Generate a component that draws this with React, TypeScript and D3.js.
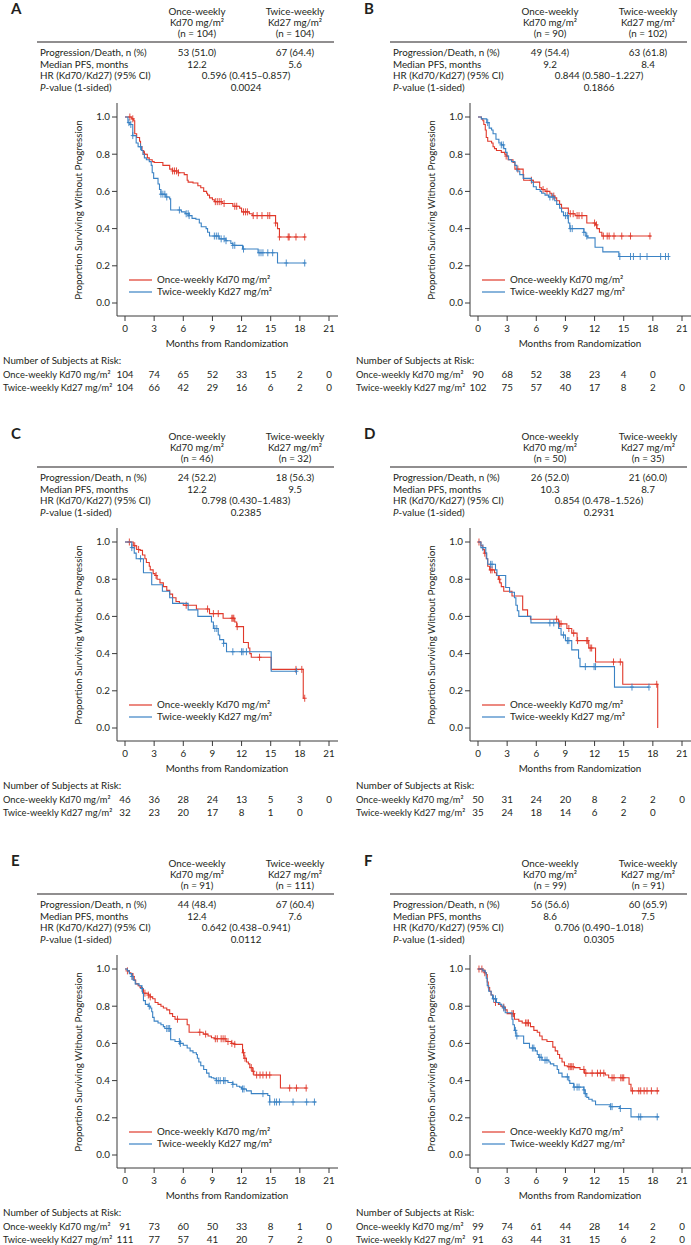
import React from 'react';
import * as d3 from 'd3';

type Pt = [number, number];

// ---- header table values (panels A–F) ----
const letters = ['A', 'B', 'C', 'D', 'E', 'F'];
const nOnce = [104, 90, 46, 50, 91, 99];
const nTwice = [104, 102, 32, 35, 111, 91];
const eventsOnce = ['53 (51.0)', '49 (54.4)', '24 (52.2)', '26 (52.0)', '44 (48.4)', '56 (56.6)'];
const eventsTwice = ['67 (64.4)', '63 (61.8)', '18 (56.3)', '21 (60.0)', '67 (60.4)', '60 (65.9)'];
const medianOnce = ['12.2', '9.2', '12.2', '10.3', '12.4', '8.6'];
const medianTwice = ['5.6', '8.4', '9.5', '8.7', '7.6', '7.5'];
const hrText = [
  '0.596 (0.415–0.857)', '0.844 (0.580–1.227)', '0.798 (0.430–1.483)',
  '0.854 (0.478–1.526)', '0.642 (0.438–0.941)', '0.706 (0.490–1.018)',
];
const pText = ['0.0024', '0.1866', '0.2385', '0.2931', '0.0112', '0.0305'];

// ---- number at risk at months 0,3,...,21 ----
const riskOnce = [
  [104, 74, 65, 52, 33, 15, 2, 0],
  [90, 68, 52, 38, 23, 4, 0],
  [46, 36, 28, 24, 13, 5, 3, 0],
  [50, 31, 24, 20, 8, 2, 2, 0],
  [91, 73, 60, 50, 33, 8, 1, 0],
  [99, 74, 61, 44, 28, 14, 2, 0],
];
const riskTwice = [
  [104, 66, 42, 29, 16, 6, 2, 0],
  [102, 75, 57, 40, 17, 8, 2, 0],
  [32, 23, 20, 17, 8, 1, 0],
  [35, 24, 18, 14, 6, 2, 0],
  [111, 77, 57, 41, 20, 7, 2, 0],
  [91, 63, 44, 31, 15, 6, 2, 0],
];

// ---- KM steps [month, survival after step], last follow-up, censor times ----
const onceSteps: Pt[][] = [
  [[0,1],[0.7,0.99],[0.9,0.98],[1.0,0.91],[1.2,0.89],[1.5,0.87],[1.6,0.84],[1.75,0.82],[1.9,0.81],[2.0,0.80],[2.3,0.78],[2.5,0.77],[2.8,0.76],[3.0,0.755],[3.9,0.74],[4.6,0.72],[4.9,0.71],[5.5,0.70],[6.1,0.69],[6.4,0.66],[6.5,0.65],[7.0,0.645],[7.5,0.63],[7.8,0.62],[8.1,0.60],[8.4,0.59],[8.5,0.58],[8.7,0.565],[9.0,0.555],[9.2,0.545],[10.0,0.535],[11.1,0.52],[11.8,0.51],[12.0,0.49],[12.8,0.48],[13.1,0.47],[15.5,0.43],[15.7,0.40],[15.9,0.355]],
  [[0,1],[0.35,0.99],[0.5,0.98],[0.6,0.96],[0.75,0.93],[0.85,0.89],[1.0,0.87],[1.4,0.86],[1.55,0.84],[1.7,0.83],[1.9,0.82],[2.4,0.81],[2.75,0.80],[2.9,0.79],[3.1,0.77],[3.6,0.755],[3.8,0.72],[4.65,0.69],[4.7,0.66],[5.7,0.65],[6.35,0.62],[6.55,0.61],[6.9,0.60],[7.4,0.59],[7.6,0.575],[7.9,0.565],[8.1,0.55],[8.4,0.53],[8.6,0.51],[9.3,0.48],[10.0,0.47],[11.2,0.43],[12.1,0.42],[12.25,0.40],[12.5,0.38],[12.75,0.36]],
  [[0,1],[0.85,0.98],[1.2,0.96],[1.55,0.955],[1.8,0.93],[2.05,0.91],[2.2,0.89],[2.5,0.87],[2.6,0.85],[2.9,0.83],[3.1,0.82],[3.3,0.80],[3.6,0.78],[3.95,0.76],[4.3,0.74],[4.6,0.72],[4.9,0.70],[5.25,0.68],[5.6,0.67],[6.0,0.66],[7.35,0.64],[8.7,0.615],[10.1,0.59],[11.3,0.57],[11.5,0.545],[12.2,0.46],[12.7,0.43],[12.85,0.40],[13.0,0.38],[15.05,0.315],[18.35,0.16]],
  [[0,1],[0.3,0.98],[0.5,0.96],[0.65,0.94],[0.85,0.91],[1.0,0.87],[1.2,0.85],[1.7,0.835],[1.9,0.82],[2.1,0.80],[2.25,0.78],[2.4,0.76],[2.65,0.735],[3.5,0.71],[4.6,0.635],[5.1,0.60],[5.4,0.585],[8.3,0.56],[9.15,0.535],[9.65,0.51],[10.2,0.47],[11.4,0.43],[12.1,0.355],[14.9,0.235],[18.5,0.0]],
  [[0,1],[0.25,0.99],[0.45,0.98],[0.6,0.975],[0.8,0.96],[0.95,0.94],[1.1,0.92],[1.35,0.91],[1.55,0.90],[1.8,0.89],[1.9,0.87],[2.4,0.86],[2.6,0.85],[2.85,0.84],[3.1,0.82],[3.4,0.81],[3.7,0.80],[3.95,0.79],[4.3,0.78],[4.6,0.76],[4.9,0.745],[5.15,0.73],[6.4,0.70],[6.6,0.66],[8.05,0.65],[8.55,0.64],[8.9,0.63],[9.2,0.625],[10.4,0.61],[10.95,0.60],[11.3,0.595],[12.1,0.55],[12.25,0.52],[12.5,0.50],[12.7,0.49],[12.85,0.47],[13.1,0.45],[13.25,0.43],[16.0,0.36]],
  [[0,1],[0.5,0.99],[0.7,0.98],[0.85,0.97],[0.95,0.93],[1.05,0.90],[1.2,0.88],[1.35,0.86],[1.55,0.84],[1.8,0.82],[2.1,0.81],[2.35,0.80],[2.55,0.795],[2.8,0.78],[3.0,0.76],[3.75,0.73],[4.2,0.72],[4.55,0.71],[5.4,0.69],[5.75,0.67],[6.1,0.66],[6.35,0.64],[6.6,0.62],[7.1,0.61],[7.7,0.58],[7.95,0.56],[8.2,0.54],[8.4,0.52],[8.65,0.50],[8.9,0.48],[9.2,0.475],[9.9,0.47],[10.5,0.46],[10.95,0.44],[13.1,0.43],[13.45,0.415],[15.55,0.38],[15.75,0.345]],
];
const onceEnd = [18.6, 17.8, 18.5, 18.5, 18.7, 18.65];
const onceCens = [
  [0.5, 0.8, 2.0, 4.9, 5.1, 5.3, 5.5, 9.3, 9.5, 9.7, 9.9, 10.2, 11.3, 11.5, 12.2, 12.4, 12.6, 13.2, 13.6, 14.1, 14.7, 14.9, 15.5, 15.9, 16.8, 16.9, 17.6, 18.5],
  [2.9, 4.1, 5.5, 6.7, 7.1, 7.8, 9.5, 9.8, 10.2, 10.4, 10.7, 12.0, 12.2, 12.9, 13.3, 13.5, 14.0, 14.8, 15.7, 17.7],
  [0.45, 1.0, 1.4, 3.2, 6.3, 8.5, 9.1, 9.6, 11.0, 11.1, 11.2, 11.55, 13.85, 17.6, 18.2, 18.5],
  [0.1, 0.7, 1.3, 1.45, 2.2, 8.1, 8.4, 8.55, 9.35, 9.85, 10.25, 11.2, 11.3, 11.55, 11.7, 13.95, 14.65, 18.4],
  [0.25, 0.8, 2.05, 2.4, 2.6, 5.4, 7.7, 8.3, 9.3, 9.5, 9.9, 10.1, 10.3, 10.6, 11.0, 11.3, 12.2, 12.35, 13.0, 13.2, 13.55, 13.9, 14.2, 14.55, 14.9, 16.95, 17.65, 18.65],
  [0.1, 0.4, 0.7, 1.8, 2.65, 3.5, 3.65, 4.9, 5.05, 5.2, 9.35, 9.5, 9.65, 9.8, 10.9, 11.1, 11.75, 12.3, 12.6, 12.95, 13.8, 14.0, 14.7, 14.85, 15.0, 15.9, 16.55, 16.75, 17.1, 17.4, 17.85, 18.45],
];

const twiceSteps: Pt[][] = [
  [[0,1],[0.3,0.97],[0.5,0.96],[0.8,0.90],[1.15,0.86],[1.35,0.84],[1.7,0.82],[1.85,0.80],[2.0,0.78],[2.2,0.77],[2.5,0.76],[2.7,0.74],[2.8,0.70],[2.95,0.67],[3.4,0.64],[3.55,0.61],[3.7,0.585],[4.2,0.57],[4.6,0.56],[4.7,0.50],[5.8,0.49],[6.2,0.48],[6.6,0.47],[6.9,0.455],[7.3,0.45],[7.65,0.43],[7.85,0.41],[8.35,0.40],[8.5,0.38],[8.7,0.36],[9.7,0.345],[10.4,0.335],[10.9,0.32],[11.1,0.31],[12.1,0.29],[13.7,0.27],[15.7,0.215]],
  [[0,1],[0.35,0.99],[0.9,0.97],[1.15,0.94],[1.4,0.93],[1.55,0.91],[1.85,0.88],[2.15,0.86],[2.4,0.85],[2.65,0.83],[2.85,0.81],[3.0,0.79],[3.15,0.77],[3.45,0.76],[3.8,0.74],[4.0,0.71],[4.3,0.69],[4.65,0.67],[5.5,0.65],[5.7,0.625],[6.0,0.61],[6.4,0.60],[6.55,0.59],[6.9,0.58],[7.25,0.57],[7.9,0.55],[8.1,0.53],[8.4,0.51],[8.6,0.49],[8.8,0.47],[9.3,0.43],[9.45,0.40],[10.9,0.38],[11.1,0.36],[11.3,0.35],[12.05,0.30],[12.85,0.275],[14.5,0.25]],
  [[0,1],[0.7,0.97],[0.95,0.94],[1.15,0.91],[1.9,0.835],[2.75,0.77],[3.85,0.735],[4.6,0.70],[4.9,0.67],[6.5,0.635],[7.5,0.60],[8.9,0.57],[9.1,0.535],[9.6,0.50],[9.75,0.475],[10.15,0.455],[10.45,0.41],[15.05,0.305]],
  [[0,1],[0.3,0.97],[0.8,0.94],[0.9,0.91],[1.0,0.88],[1.8,0.85],[1.95,0.82],[2.85,0.755],[3.25,0.73],[3.75,0.70],[3.9,0.66],[4.05,0.63],[4.2,0.60],[5.45,0.565],[8.3,0.535],[8.55,0.50],[9.0,0.47],[9.65,0.42],[10.35,0.375],[10.5,0.33],[14.05,0.22]],
  [[0,1],[0.25,0.99],[0.45,0.975],[0.7,0.96],[0.85,0.94],[1.05,0.92],[1.45,0.91],[1.7,0.895],[1.8,0.87],[1.9,0.83],[2.1,0.81],[2.4,0.80],[2.6,0.79],[2.75,0.77],[2.85,0.74],[3.0,0.72],[3.4,0.71],[3.7,0.70],[3.95,0.69],[4.1,0.68],[4.7,0.62],[5.15,0.61],[5.65,0.60],[6.0,0.59],[6.4,0.575],[6.7,0.56],[7.0,0.55],[7.35,0.54],[7.45,0.52],[7.6,0.50],[7.8,0.48],[8.1,0.46],[8.4,0.44],[8.65,0.42],[8.9,0.415],[9.15,0.41],[9.4,0.40],[10.6,0.39],[11.1,0.38],[11.5,0.37],[11.8,0.365],[12.0,0.355],[12.5,0.345],[13.0,0.33],[14.7,0.32],[14.9,0.285]],
  [[0,1],[0.5,0.99],[0.75,0.98],[0.85,0.95],[0.95,0.91],[1.1,0.88],[1.35,0.86],[1.5,0.84],[1.9,0.82],[2.25,0.81],[2.45,0.80],[2.65,0.79],[2.8,0.765],[3.5,0.73],[3.6,0.70],[3.75,0.67],[3.9,0.64],[4.7,0.60],[5.3,0.575],[5.9,0.56],[6.1,0.54],[6.25,0.525],[6.6,0.51],[7.3,0.50],[7.45,0.49],[7.8,0.48],[8.15,0.46],[8.3,0.44],[8.65,0.42],[9.35,0.40],[9.45,0.385],[9.85,0.365],[10.9,0.35],[11.0,0.33],[11.2,0.31],[11.4,0.30],[11.75,0.29],[12.1,0.27],[13.6,0.26],[14.6,0.25],[15.75,0.205]],
];
const twiceEnd = [18.6, 19.6, 17.65, 17.6, 19.7, 18.65];
const twiceCens = [
  [0.4, 0.6, 0.8, 1.6, 3.7, 3.9, 4.1, 4.3, 5.6, 6.3, 6.5, 6.6, 9.2, 9.4, 9.6, 9.9, 10.2, 10.4, 11.1, 11.3, 12.2, 13.8, 14.0, 14.2, 14.7, 15.2, 16.6, 18.5],
  [1.0, 2.4, 2.6, 7.4, 7.7, 9.0, 9.2, 9.5, 9.7, 10.9, 11.2, 14.6, 15.7, 16.0, 16.7, 17.4, 18.8, 19.3, 19.6],
  [0.7, 1.6, 9.25, 9.45, 10.15, 11.1, 12.0, 12.15, 12.5, 17.65],
  [0.5, 1.3, 1.45, 7.4, 7.8, 8.8, 9.2, 9.35, 11.05, 11.95, 12.1, 15.85, 17.6],
  [0.7, 1.75, 2.5, 4.3, 4.45, 4.6, 5.6, 5.7, 9.4, 9.6, 9.8, 10.15, 10.3, 11.1, 12.1, 12.25, 14.2, 14.9, 15.4, 15.6, 15.9, 17.3, 18.7, 19.5],
  [1.6, 1.8, 2.65, 3.85, 4.0, 5.6, 5.75, 6.35, 6.5, 6.9, 7.1, 9.2, 9.9, 10.2, 10.4, 10.9, 11.05, 13.65, 13.8, 14.65, 16.55, 16.75, 18.45],
];

const monthTicks = [0, 3, 6, 9, 12, 15, 18, 21];
const survTicks = [0, 0.2, 0.4, 0.6, 0.8, 1.0];

const RED = '#e0392b';
const BLUE = '#3a82c4';
const INK = '#231f20';
const AXIS = '#3a3a3a';
const FONT = "Lato, 'Open Sans', sans-serif";
const FS = 9.8;

const survAt = (steps: Pt[], t: number) => {
  let s = 1;
  for (const [m, v] of steps) if (m <= t) s = v;
  return s;
};

function Panel({ i }: { i: number }) {
  const ox = (i % 2) * 353;
  const oy = [0, 425, 852][Math.floor(i / 2)];
  const x = d3.scaleLinear().domain([0, 21]).range([ox + 125, ox + 329]);
  const y = d3.scaleLinear().domain([0, 1]).range([oy + 303, oy + 117]);
  const axisX = ox + 117;
  const axisY = oy + 316;
  const line = d3.line<Pt>().x(d => x(d[0])).y(d => y(d[1])).curve(d3.curveStepAfter);

  const series = [
    { steps: onceSteps[i], end: onceEnd[i], cens: onceCens[i], color: RED },
    { steps: twiceSteps[i], end: twiceEnd[i], cens: twiceCens[i], color: BLUE },
  ];
  const c1 = ox + 197, c2 = ox + 295, cm = ox + 246;
  const rows = ['Progression/Death, n (%)', 'Median PFS, months', 'HR (Kd70/Kd27) (95% CI)'];
  const rowY = [56, 67.5, 79, 90.5].map(v => oy + v);

  return (
    <g fontFamily={FONT} fontSize={FS} fill={INK}>
      <text x={ox + 11} y={oy + 14} fontSize={15} fontWeight={700}>{letters[i]}</text>
      <g textAnchor="middle">
        <text x={c1} y={oy + 15}>Once-weekly</text>
        <text x={c1} y={oy + 26}>Kd70 mg/m²</text>
        <text x={c1} y={oy + 37}>(n = {nOnce[i]})</text>
        <text x={c2} y={oy + 15}>Twice-weekly</text>
        <text x={c2} y={oy + 26}>Kd27 mg/m²</text>
        <text x={c2} y={oy + 37}>(n = {nTwice[i]})</text>
      </g>
      <line x1={ox + 37} x2={ox + 334} y1={oy + 42} y2={oy + 42} stroke={INK} strokeWidth={1.1} />
      {rows.map((r, k) => (
        <text key={r} x={ox + 40} y={rowY[k]}>{r}</text>
      ))}
      <text x={ox + 40} y={rowY[3]}><tspan fontStyle="italic">P</tspan>-value (1-sided)</text>
      <g textAnchor="middle">
        <text x={c1} y={rowY[0]}>{eventsOnce[i]}</text>
        <text x={c2} y={rowY[0]}>{eventsTwice[i]}</text>
        <text x={c1} y={rowY[1]}>{medianOnce[i]}</text>
        <text x={c2} y={rowY[1]}>{medianTwice[i]}</text>
        <text x={cm} y={rowY[2]}>{hrText[i]}</text>
        <text x={cm} y={rowY[3]}>{pText[i]}</text>
      </g>

      {/* axes */}
      <g stroke={AXIS} strokeWidth={1}>
        <line x1={axisX} x2={axisX} y1={oy + 103} y2={axisY} />
        <line x1={axisX} x2={ox + 338} y1={axisY} y2={axisY} />
        {survTicks.map(t => (
          <line key={t} x1={axisX - 5} x2={axisX} y1={y(t)} y2={y(t)} />
        ))}
        {monthTicks.map(t => (
          <line key={t} x1={x(t)} x2={x(t)} y1={axisY} y2={axisY + 5} />
        ))}
      </g>
      <g textAnchor="end">
        {survTicks.map(t => (
          <text key={t} x={axisX - 7} y={y(t)} dy="0.35em">{d3.format('.1f')(t)}</text>
        ))}
      </g>
      <g textAnchor="middle">
        {monthTicks.map(t => (
          <text key={t} x={x(t)} y={axisY + 16}>{t}</text>
        ))}
        <text x={(x(0) + x(21)) / 2} y={axisY + 31}>Months from Randomization</text>
      </g>
      <text
        transform={`translate(${ox + 82},${(y(0) + y(1)) / 2}) rotate(-90)`}
        textAnchor="middle"
      >
        Proportion Surviving Without Progression
      </text>

      {/* curves */}
      {series.map((s, k) => {
        const last = s.steps[s.steps.length - 1][1];
        const pts: Pt[] = [...s.steps, [s.end, last]];
        return (
          <g key={k} stroke={s.color} strokeWidth={1.1} fill="none">
            <path d={line(pts) || ''} />
            {s.cens.map((c, j) => {
              const cx = x(c), cy = y(survAt(s.steps, c));
              return (
                <path key={j} d={`M${cx},${cy - 3.5}V${cy + 3.5}M${cx - 2},${cy}H${cx + 2}`} strokeWidth={0.9} />
              );
            })}
          </g>
        );
      })}

      {/* legend */}
      {series.map((s, k) => {
        const ly = y(0) - 23 + k * 12;
        return (
          <g key={k}>
            <line x1={axisX + 12} x2={axisX + 35} y1={ly} y2={ly} stroke={s.color} strokeWidth={1.2} />
            <text x={axisX + 40} y={ly} dy="0.35em">
              {k === 0 ? 'Once-weekly Kd70 mg/m²' : 'Twice-weekly Kd27 mg/m²'}
            </text>
          </g>
        );
      })}

      {/* number at risk */}
      <text x={ox + 3} y={axisY + 48}>Number of Subjects at Risk:</text>
      <text x={ox + 3} y={axisY + 61.5} fontSize={9.3}>Once-weekly Kd70 mg/m²</text>
      <text x={ox + 3} y={axisY + 74.5} fontSize={9.3}>Twice-weekly Kd27 mg/m²</text>
      <g textAnchor="middle">
        {riskOnce[i].map((v, j) => (
          <text key={j} x={x(j * 3)} y={axisY + 61.5}>{v}</text>
        ))}
        {riskTwice[i].map((v, j) => (
          <text key={j} x={x(j * 3)} y={axisY + 74.5}>{v}</text>
        ))}
      </g>
    </g>
  );
}

export default function App() {
  return (
    <svg
      width={691}
      height={1245}
      style={{ position: 'absolute', left: 0, top: 0, background: '#fff' }}
    >
      {letters.map((_, i) => (
        <Panel key={i} i={i} />
      ))}
    </svg>
  );
}
